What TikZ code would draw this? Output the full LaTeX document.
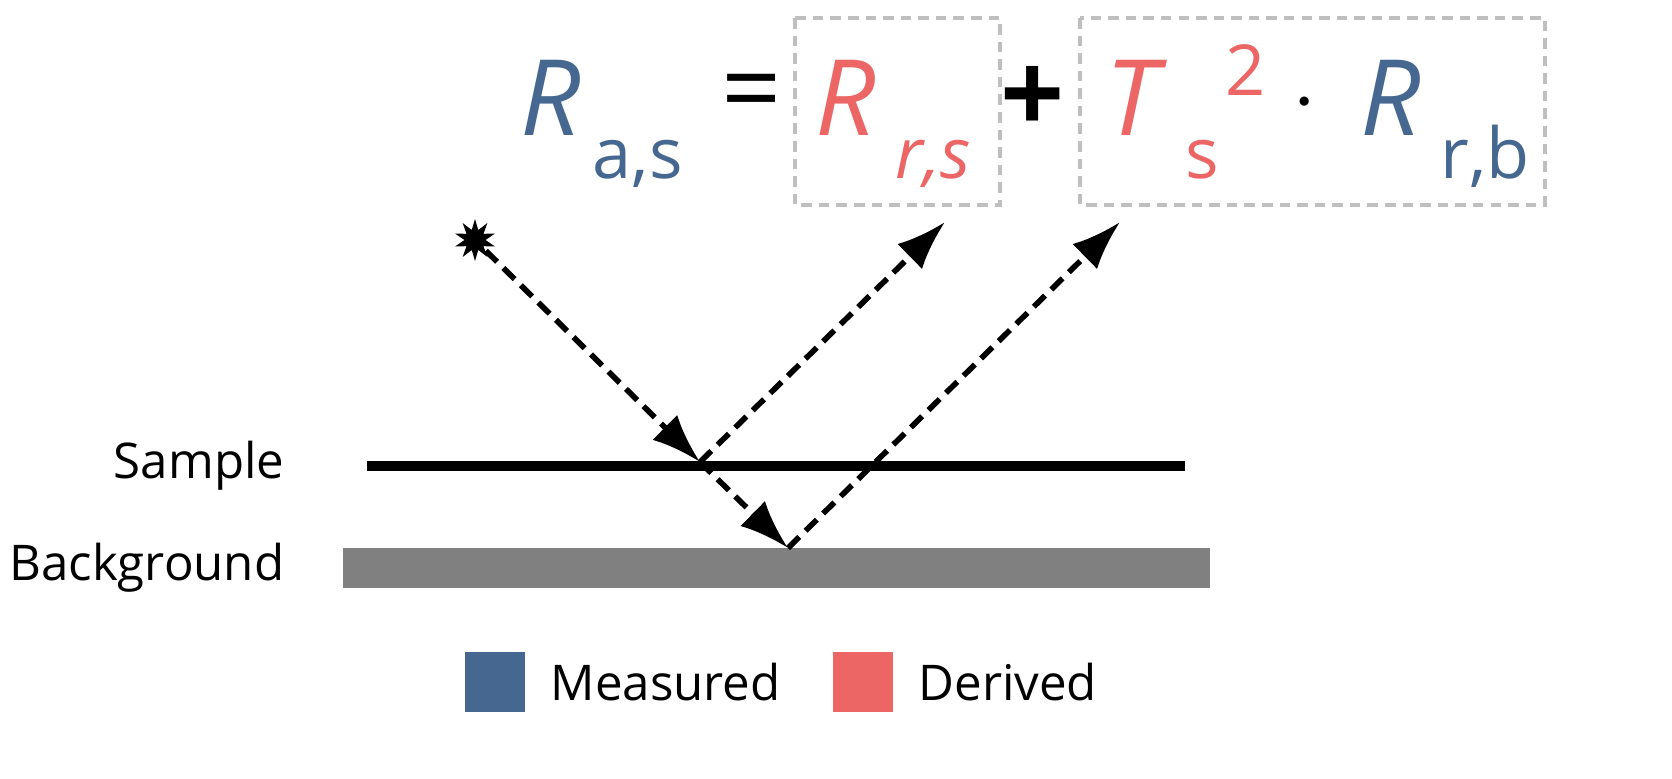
\documentclass[tikz,border=0pt]{standalone}
\usepackage{fontspec}
\setmainfont{Open Sans}
\usetikzlibrary{arrows.meta,shapes.geometric}
\definecolor{measured}{HTML}{466890}
\definecolor{derived}{HTML}{EC6666}
\tikzset{
  big/.style={inner sep=0pt,anchor=base west,font=\fontsize{30}{36}\selectfont\itshape},
  sub/.style={inner sep=0pt,anchor=base west,font=\fontsize{20}{24}\selectfont},
  ray/.style={dashed,line width=1.6pt,dash pattern=on 4.5pt off 2.5pt,-{Latex[length=14pt,width=10pt]}},
  term/.style={draw=gray!50,dashed,line width=1pt,dash pattern=on 3pt off 2pt},
  lbl/.style={inner sep=0pt,font=\fontsize{14}{17}\selectfont},
  swatch/.style={minimum width=0.6cm,minimum height=0.6cm,inner sep=0pt}
}
\begin{document}
\begin{tikzpicture}
\useasboundingbox (0,0) rectangle (16.72,7.78);
% equation
\node[big,text=measured] (Ra) at (5.2,6.43) {R};
\node[sub,text=measured] (Ras) at (5.92,6.00) {a,s};
\node[inner sep=0pt,font=\fontsize{30}{36}\selectfont] (eq) at (7.52,6.78) {=};
\node[big,text=derived] (Rr) at (8.15,6.43) {R};
\node[sub,text=derived,font=\fontsize{20}{24}\selectfont\itshape] (Rrs) at (8.95,6.00) {r,s};
\node[inner sep=0pt,font=\fontsize{32}{36}\selectfont\bfseries] (plus) at (10.33,6.78) {+};
\node[big,text=derived] (T) at (11.05,6.43) {T};
\node[sub,text=derived] (Ts) at (11.85,6.00) {s};
\node[sub,text=derived] (Tsq) at (12.25,6.83) {2};
\node[inner sep=0pt,font=\fontsize{30}{36}\selectfont] (dot) at (13.05,6.74) {$\cdot$};
\node[big,text=measured] (Rb) at (13.6,6.43) {R};
\node[sub,text=measured] (Rrb) at (14.4,6.00) {r,b};
\draw[term] (7.95,7.60) rectangle (10.0,5.73);
\draw[term] (10.8,7.60) rectangle (15.45,5.73);
% layers
\draw[line width=3pt] (3.67,3.12) -- (11.85,3.12);
\fill[gray] (3.43,1.90) rectangle (12.10,2.30);
\node[lbl,anchor=east] (sample) at (2.85,3.12) {Sample};
\node[lbl,anchor=east] (bg) at (2.85,2.10) {Background};
% rays
\node[star,star points=10,star point ratio=2,fill,inner sep=0pt,minimum size=0.42cm] (src) at (4.75,5.38) {};
\coordinate (hitS) at (7.0,3.16);
\coordinate (hitB) at (7.88,2.30);
\coordinate (outS) at (9.45,5.56);
\coordinate (outB) at (11.2,5.56);
\draw[ray] (src) -- (hitS);
\draw[ray] (hitS) -- (outS);
\draw[ray] (hitS) -- (hitB);
\draw[ray] (hitB) -- (outB);
% legend
\node[swatch,fill=measured] (kM) at (4.95,0.96) {};
\node[lbl,anchor=west] (tM) at (5.5,0.96) {Measured};
\node[swatch,fill=derived] (kD) at (8.63,0.96) {};
\node[lbl,anchor=west] (tD) at (9.18,0.96) {Derived};
\end{tikzpicture}
\end{document}
